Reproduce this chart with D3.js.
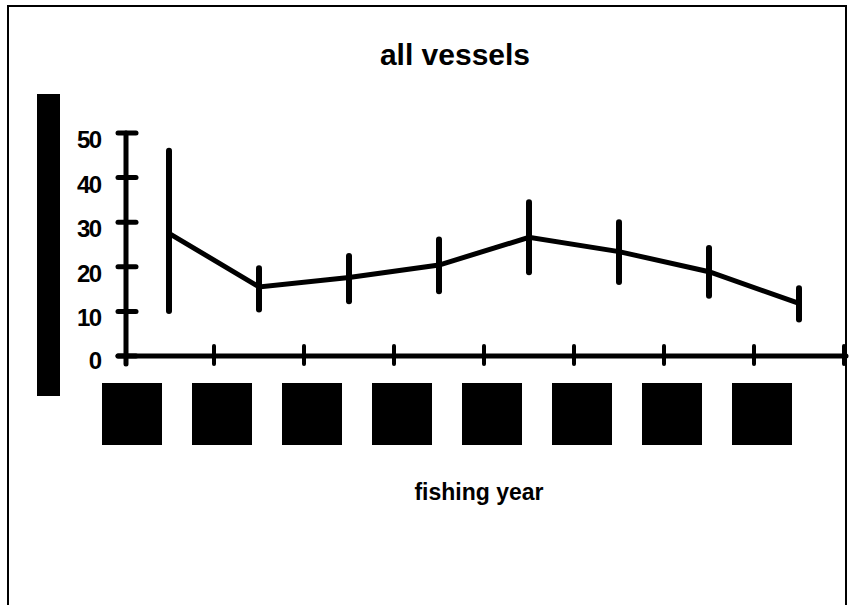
<!DOCTYPE html>
<html>
<head>
<meta charset="utf-8">
<script src="https://cdn.jsdelivr.net/npm/d3@7"></script>
<style>
  body { margin: 0; background: #fff; }
  svg text { font-family: "Liberation Sans", Arial, sans-serif; font-weight: bold; fill: #000; }
</style>
</head>
<body>
<svg id="chart"></svg>
<script>
const width = 849,
  height = 605;

// fishing years (labels render as solid blocks in the original)
const years = [1, 2, 3, 4, 5, 6, 7, 8];
const means = [27.5, 15.5, 17.6, 20.4, 26.6, 23.4, 18.9, 11.8];
const upper = [46.0, 19.7, 22.4, 26.1, 34.5, 30.0, 24.2, 15.2];
const lower = [10.1, 10.4, 12.3, 14.5, 18.8, 16.6, 13.5, 8.2];
const yTicks = [0, 10, 20, 30, 40, 50];

const data = years.map((d, i) => ({year: d, mean: means[i], hi: upper[i], lo: lower[i]}));

const svg = d3.select('#chart')
  .attr('width', width)
  .attr('height', height);

// outer frame
svg.append('path')
  .attr('d', 'M8,610 V6 H846 V610')
  .attr('fill', 'none')
  .attr('stroke', '#000')
  .attr('stroke-width', 2);

const x = d3.scaleBand()
  .domain(years)
  .range([124, 844]);

const y = d3.scaleLinear()
  .domain([0, 50])
  .range([356, 133]);

svg.append('text')
  .attr('x', 455)
  .attr('y', 65)
  .attr('text-anchor', 'middle')
  .style('font-size', '30px')
  .text('all vessels');

// y axis title (drawn as a block in the original)
svg.append('rect')
  .attr('x', 37)
  .attr('y', 94)
  .attr('width', 23)
  .attr('height', 302)
  .attr('fill', '#000');

// y axis
const yAxis = svg.append('g');
yAxis.append('line')
  .attr('x1', 126).attr('x2', 126)
  .attr('y1', y(50)).attr('y2', y(0) + 8)
  .attr('stroke', '#000').attr('stroke-width', 5).attr('stroke-linecap', 'round');
yAxis.selectAll('.ytick')
  .data(yTicks)
  .enter().append('line')
  .attr('class', 'ytick')
  .attr('x1', 118).attr('x2', 136)
  .attr('y1', d => y(d)).attr('y2', d => y(d))
  .attr('stroke', '#000').attr('stroke-width', 5).attr('stroke-linecap', 'round');
yAxis.selectAll('.ylab')
  .data(yTicks)
  .enter().append('text')
  .attr('class', 'ylab')
  .attr('x', 102)
  .attr('y', d => y(d) + (d === 0 ? 13 : 15))
  .attr('text-anchor', 'end')
  .style('font-size', '24px')
  .attr('textLength', d => String(d).length * 12.5)
  .text(d => d);

// x axis
const xAxis = svg.append('g');
xAxis.append('line')
  .attr('x1', 118).attr('x2', 846)
  .attr('y1', y(0)).attr('y2', y(0))
  .attr('stroke', '#000').attr('stroke-width', 5).attr('stroke-linecap', 'round');
const bounds = years.map(d => x(d) + x.bandwidth());
xAxis.selectAll('.xtick')
  .data(bounds)
  .enter().append('line')
  .attr('class', 'xtick')
  .attr('x1', d => d).attr('x2', d => d)
  .attr('y1', y(0) - 10).attr('y2', y(0) + 8)
  .attr('stroke', '#000').attr('stroke-width', 4).attr('stroke-linecap', 'round');

// tick labels (solid blocks in the original)
xAxis.selectAll('.xlab')
  .data(years)
  .enter().append('rect')
  .attr('class', 'xlab')
  .attr('x', d => x(d) - 22)
  .attr('y', 383)
  .attr('width', 60)
  .attr('height', 62)
  .attr('fill', '#000');

svg.append('text')
  .attr('x', 479)
  .attr('y', 500)
  .attr('text-anchor', 'middle')
  .style('font-size', '23px')
  .text('fishing year');

const cx = d => x(d.year) + x.bandwidth() / 2;

// error bars
svg.selectAll('.err')
  .data(data)
  .enter().append('line')
  .attr('class', 'err')
  .attr('x1', cx).attr('x2', cx)
  .attr('y1', d => y(d.hi)).attr('y2', d => y(d.lo))
  .attr('stroke', '#000').attr('stroke-width', 6).attr('stroke-linecap', 'round');

// mean line
svg.append('path')
  .datum(data)
  .attr('fill', 'none')
  .attr('stroke', '#000')
  .attr('stroke-width', 5)
  .attr('d', d3.line().x(cx).y(d => y(d.mean)));
</script>
</body>
</html>
